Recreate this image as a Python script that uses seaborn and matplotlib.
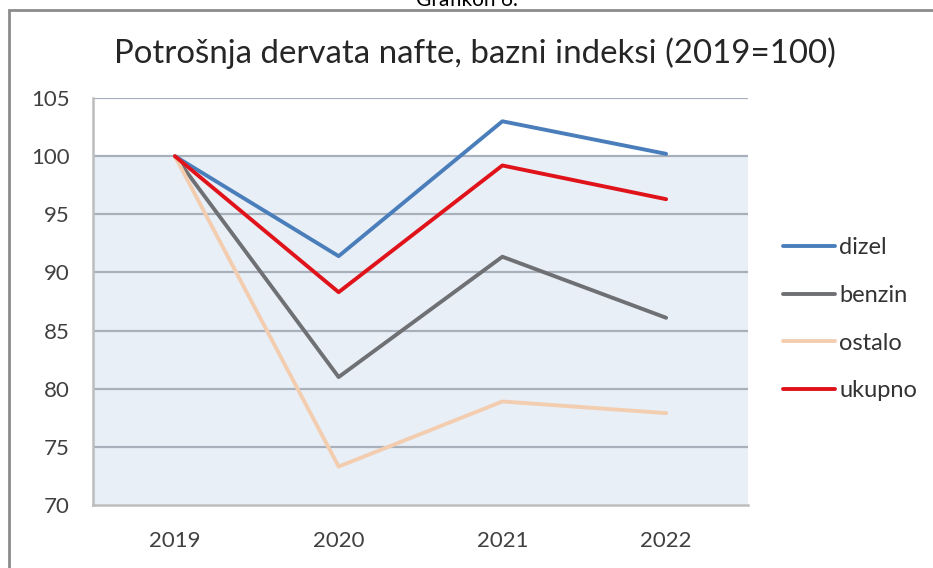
import matplotlib
matplotlib.use("Agg")
from matplotlib import pyplot as plt
from matplotlib.patches import Rectangle
import seaborn as sns
import pandas as pd

# podaci, ocitano s grafikona
godine = ["2019", "2020", "2021", "2022"]
dizel = [100, 91.4, 103.0, 100.2]
benzin = [100, 81.0, 91.35, 86.1]
ostalo = [100, 73.3, 78.9, 77.9]
ukupno = [100, 88.3, 99.2, 96.3]

serije = {"dizel": dizel, "benzin": benzin, "ostalo": ostalo, "ukupno": ukupno}
boje = {"dizel": "#4A7EBB", "benzin": "#6E7074", "ostalo": "#F3CDB0", "ukupno": "#E0131B"}

df = pd.DataFrame(
    [(g, naziv, v) for naziv, vrijednosti in serije.items() for g, v in zip(godine, vrijednosti)],
    columns=["godina", "serija", "indeks"],
)

sns.set_style("white")
plt.rcParams["font.family"] = ["Lato", "DejaVu Sans"]

fig = plt.figure(figsize=(9.33, 5.68), dpi=100)
ax = fig.add_axes([0.0997, 0.111, 0.7020, 0.7164])

# svijetloplava pozadina ispod 100
ax.axhspan(70, 100, color="#E9EFF7", zorder=0, lw=0)
for y in range(75, 106, 5):
    ax.axhline(y, color="#A8B0BC", lw=1.6, zorder=1)

sns.lineplot(data=df, x="godina", y="indeks", hue="serija", palette=boje,
             linewidth=2.8, ax=ax, zorder=3, sort=False)

ax.set_xlim(-0.5, 3.5)
ax.set_ylim(70, 105)
ax.set_yticks(range(70, 106, 5))
ax.set_xlabel("")
ax.set_ylabel("")
ax.tick_params(axis="y", length=0, pad=17, labelsize=16, labelcolor="#404040")
ax.tick_params(axis="x", length=0, pad=19, labelsize=16, labelcolor="#404040")

for s in ["top", "right"]:
    ax.spines[s].set_visible(False)
for s in ["left", "bottom"]:
    ax.spines[s].set_color("#BDBDBD")
    ax.spines[s].set_linewidth(1.8)

handles, labels = ax.get_legend_handles_labels()
ax.legend(handles, labels, loc="center left", bbox_to_anchor=(0.839, 0.438),
          bbox_transform=fig.transFigure, frameon=False, fontsize=17,
          handlelength=2.2, handletextpad=0.2, labelspacing=1.13,
          borderaxespad=0, borderpad=0, labelcolor="#333333")

fig.suptitle("Potrošnja dervata nafte, bazni indeksi (2019=100)",
             x=0.509, y=0.935, fontsize=23.8, color="#262626")

# okvir (desni i donji rub izvan slike) i odrezani natpis iznad
fig.patches.append(Rectangle((0.0098, -0.05), 1.05, 1.032, transform=fig.transFigure,
                             fill=False, edgecolor="#8C8C8C", lw=2.0))
fig.text(0.5, 1 - 6 / 568, "Grafikon 6.", ha="center", va="baseline",
         fontsize=15, color="#000000")

fig.savefig("out.png", dpi=100)
